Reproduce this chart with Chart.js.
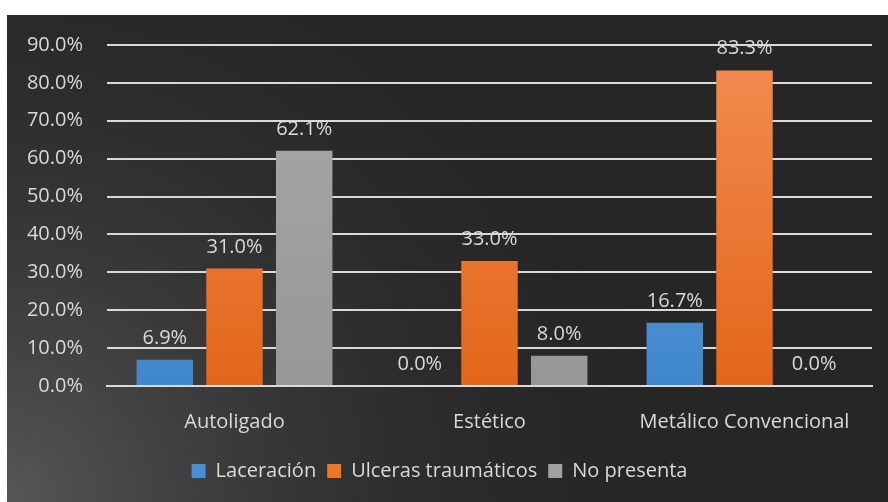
<!DOCTYPE html>
<html>
<head>
<meta charset="utf-8">
<script src="https://cdn.jsdelivr.net/npm/chart.js@4.4.0/dist/chart.umd.min.js"></script>
<style>
    html, body { margin: 0; padding: 0; background: #ffffff; }
    .chart-box { position: absolute; left: 7px; top: 15px; width: 881px; height: 487px; }
</style>
</head>
<body>
<div class="chart-box"><canvas id="bar-chart"></canvas></div>
<script>
// Chart data
const categories = ["Autoligado", "Estético", "Metálico Convencional"];
const laceracion = [6.9, 0.0, 16.7];
const ulceras = [31.0, 33.0, 83.3];
const noPresenta = [62.1, 8.0, 0.0];
const seriesNames = ["Laceración", "Ulceras traumáticos", "No presenta"];

const textColor = "#d9d9d9";
const fontFamily = "'Open Sans', 'Noto Sans', sans-serif";
const fontSize = 20;

// vertical gradient for each bar colour
function barGradient(top, bottom) {
    return function (context) {
        const area = context.chart.chartArea;
        if (!area) return bottom;
        const g = context.chart.ctx.createLinearGradient(0, area.top, 0, area.bottom);
        g.addColorStop(0, top);
        g.addColorStop(1, bottom);
        return g;
    };
}

// dark background with a lighter corner at bottom-left
const backgroundPlugin = {
    id: "darkBackground",
    beforeDraw(chart) {
        const ctx = chart.ctx;
        const w = chart.width, h = chart.height;
        ctx.save();
        ctx.fillStyle = "#262626";
        ctx.fillRect(0, 0, w, h);
        const g = ctx.createRadialGradient(0, h, 0, 0, h, 660);
        g.addColorStop(0, "#575757");
        g.addColorStop(1, "rgba(38,38,38,0)");
        ctx.fillStyle = g;
        ctx.fillRect(0, 0, w, h);
        ctx.restore();
    }
};

// value labels above bars
const valueLabels = {
    id: "valueLabels",
    afterDatasetsDraw(chart) {
        const ctx = chart.ctx;
        ctx.save();
        ctx.fillStyle = textColor;
        ctx.font = fontSize + "px " + fontFamily;
        ctx.textAlign = "center";
        ctx.textBaseline = "alphabetic";
        chart.data.datasets.forEach((ds, i) => {
            chart.getDatasetMeta(i).data.forEach((bar, j) => {
                ctx.fillText(ds.data[j].toFixed(1) + "%", bar.x, bar.y - 16);
            });
        });
        ctx.restore();
    }
};

const ctx = document.getElementById("bar-chart").getContext("2d");
new Chart(ctx, {
    type: "bar",
    data: {
        labels: categories,
        datasets: [
            { label: seriesNames[0], data: laceracion, backgroundColor: barGradient("#6fa9e0", "#3f86cc") },
            { label: seriesNames[1], data: ulceras, backgroundColor: barGradient("#f48c52", "#e2661a") },
            { label: seriesNames[2], data: noPresenta, backgroundColor: barGradient("#a8a8a8", "#979797") }
        ]
    },
    options: {
        responsive: true,
        maintainAspectRatio: false,
        animation: false,
        categoryPercentage: 0.82,
        barPercentage: 0.81,
        layout: { padding: { left: 0, right: 16, top: 30, bottom: 11 } },
        plugins: {
            tooltip: { enabled: false },
            legend: {
                position: "bottom",
                labels: {
                    color: textColor,
                    font: { size: fontSize, family: fontFamily },
                    boxWidth: 14,
                    boxHeight: 14,
                    padding: 11,
                    generateLabels(chart) {
                        const fills = ["#4a8fd3", "#ee7625", "#a0a0a0"];
                        return chart.data.datasets.map((ds, i) => ({
                            text: ds.label,
                            fillStyle: fills[i],
                            strokeStyle: fills[i],
                            lineWidth: 0,
                            fontColor: textColor,
                            datasetIndex: i
                        }));
                    }
                }
            }
        },
        scales: {
            x: {
                grid: { display: false },
                border: { color: "#d9d9d9", width: 2 },
                ticks: { color: textColor, font: { size: fontSize, family: fontFamily }, padding: 16 }
            },
            y: {
                min: 0,
                max: 90,
                afterFit(scale) {
                    scale.width = 100;
                    scale.paddingTop = 0;
                },
                ticks: {
                    stepSize: 10,
                    color: textColor,
                    font: { size: fontSize, family: fontFamily },
                    padding: 24,
                    callback: v => v.toFixed(1) + "%"
                },
                grid: { color: "#d9d9d9", lineWidth: 2, drawTicks: false },
                border: { display: false }
            }
        }
    },
    plugins: [backgroundPlugin, valueLabels]
});
</script>
</body>
</html>
